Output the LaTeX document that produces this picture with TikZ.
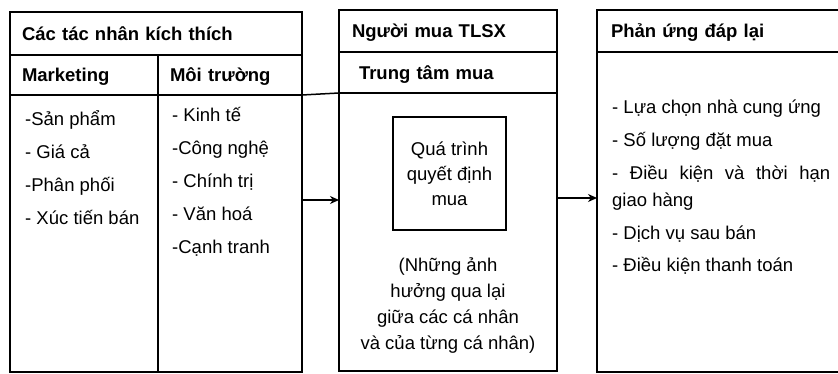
\documentclass[tikz,border=0pt]{standalone}
\usepackage{fontspec}
\setmainfont{Liberation Sans}
\usetikzlibrary{arrows.meta, positioning}
\tikzset{
  hcell/.style={
    rectangle, draw=black, line width=1.5pt, outer sep=0pt,
    anchor=north west, align=left, font=\bfseries,
    inner xsep=12pt, inner ysep=0pt,
    text height=17pt, text depth=3pt
  },
  bcell/.style={
    rectangle, draw=black, line width=1.5pt, outer sep=0pt,
    anchor=north west, inner sep=0pt
  },
  item/.style={anchor=base west, inner sep=0pt},
  ctext/.style={align=center, inner sep=0pt},
  arr/.style={-{Stealth[length=9pt, width=8pt]}, line width=1.5pt},
}
\begin{document}
\fontsize{18.5}{25}\selectfont
\begin{tikzpicture}[x=1pt, y=-1pt]
  \useasboundingbox (0,0) rectangle (838,374);
  % stimuli
  \node[hcell, text width=268pt, minimum height=43pt] (stimhead) at (10,12) {Các tác nhân kích thích};
  \node[hcell, text width=124pt, minimum height=40pt, below right=0pt of stimhead.south west] (mkthead) {Marketing};
  \node[hcell, text width=120pt, minimum height=40pt, right=0pt of mkthead] (envhead) {Môi trường};
  \node[bcell, minimum width=148pt, minimum height=277pt, below right=0pt of mkthead.south west] (mktbody) {};
  \node[bcell, minimum width=144pt, minimum height=277pt, right=0pt of mktbody] (envbody) {};
  \foreach \t [count=\i] in {-Sản phẩm, - Giá cả, -Phân phối, - Xúc tiến bán}
    \node[item] (mkt\i) at (25,{126+33*(\i-1)}) {\t};
  \foreach \t [count=\i] in {- Kinh tế, -Công nghệ, - Chính trị, - Văn hoá, -Cạnh tranh}
    \node[item] (env\i) at (172,{122+33*(\i-1)}) {\t};
  % buyer
  \node[hcell, inner xsep=13pt, text width=192pt, minimum height=42pt] (midhead) at (339,10) {Người mua TLSX};
  \node[hcell, inner xsep=20pt, text width=178pt, minimum height=41pt, below right=0pt of midhead.south west] (midsub) {Trung tâm mua};
  \node[bcell, minimum width=218pt, minimum height=278pt, below right=0pt of midsub.south west] (midbody) {};
  \node[bcell, anchor=center, minimum width=113pt, minimum height=113pt, align=center] (decide) at (449.5,173.5) {Quá trình\\quyết định\\mua};
  \node[ctext, font=\fontsize{18.5}{26}\selectfont] (infl) at (448,306) {(Những ảnh\\hưởng qua lại\\giữa các cá nhân\\và của từng cá nhân)};
  % response
  \node[hcell, inner xsep=14pt, text width=225pt, minimum height=42pt] (resphead) at (597,10) {Phản ứng đáp lại};
  \node[bcell, minimum width=253pt, minimum height=320pt, below right=0pt of resphead.south west] (respbody) {};
  \node[item] (resp1) at (612,113.5) {- Lựa chọn nhà cung ứng};
  \node[item] (resp2) at (612,146.5) {- Số lượng đặt mua};
  \node[item] (resp3) at (612,179.5) {\makebox[218pt][s]{- Điều kiện và thời hạn}};
  \node[item] (resp4) at (612,206.5) {giao hàng};
  \node[item] (resp5) at (612,239.5) {- Dịch vụ sau bán};
  \node[item] (resp6) at (612,271.5) {- Điều kiện thanh toán};
  % connectors
  \draw[line width=1.5pt] (envbody.north east) -- (midbody.north west);
  \draw[arr] (envbody.east |- 0,200) -- (midbody.west |- 0,200);
  \draw[arr] (midbody.east |- 0,198) -- (respbody.west |- 0,198);
\end{tikzpicture}
\end{document}
